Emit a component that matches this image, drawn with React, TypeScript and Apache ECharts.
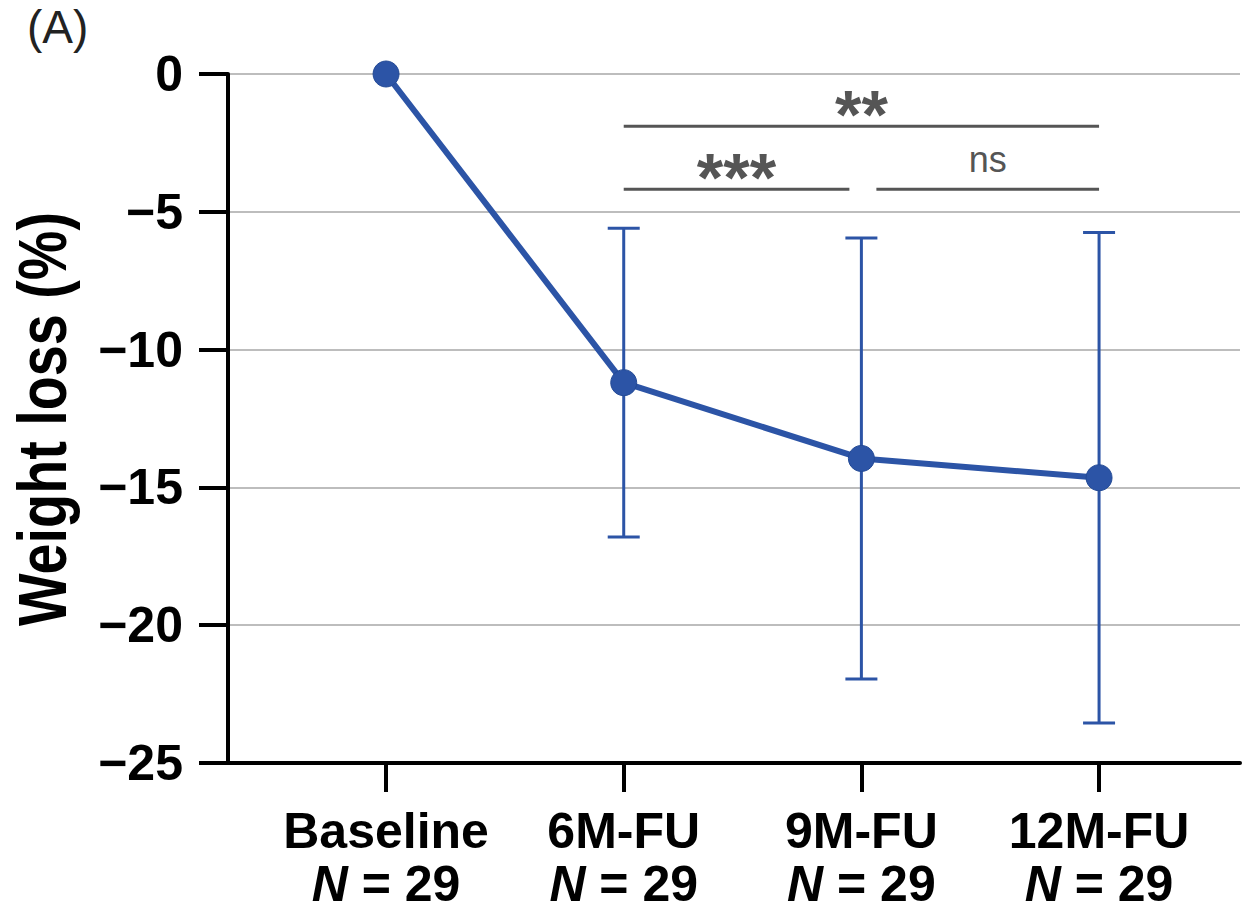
import React, { useEffect, useRef } from "react";
import * as echarts from "echarts";

// Time points and sample sizes
const categories = ["Baseline", "6M-FU", "9M-FU", "12M-FU"];
const sampleSizes = [29, 29, 29, 29];

// Mean weight change (%) and its standard deviation at each time point
const meanLoss = [0, -11.2, -13.95, -14.65];
const sdLoss = [0, 5.6, 8.0, 8.9];

// Y-axis ticks
const yTicks = [0, -5, -10, -15, -20, -25];

// Pairwise comparisons drawn above the curve
const bracketFrom = [1, 1, 2];
const bracketTo = [3, 2, 3];
const bracketLevel = [-1.9, -4.18, -4.18];
const bracketLabel = ["**", "***", "ns"];

const FONT = "'Liberation Sans', Arial, Helvetica, sans-serif";
const BLUE = "#2c54a6";
const SIG_GRAY = "#555555";

export default function App() {
  const ref = useRef<HTMLDivElement>(null);

  useEffect(() => {
    if (!ref.current) return;
    const chart = echarts.init(ref.current, null, { renderer: "svg" });

    const catIdx = categories.map((_, i) => i);
    const lineData = meanLoss.map((m, i) => [i, m]);
    const errData = meanLoss
      .map((m, i) => [i, m - sdLoss[i], m + sdLoss[i]])
      .filter((_, i) => sdLoss[i] > 0);
    const bracketData = bracketFrom.map((f, i) => [f, bracketTo[i], bracketLevel[i]]);

    const yMin = Math.min(...yTicks);
    const yMax = Math.max(...yTicks);

    const option: any = {
      animation: false,
      backgroundColor: "#ffffff",
      grid: { left: 228, top: 74, right: 2, bottom: 150, containLabel: false },
      xAxis: {
        type: "value",
        min: -0.665,
        max: 3.593,
        axisLine: { show: true, onZero: false, lineStyle: { color: "#000", width: 4 } },
        axisTick: {
          show: true,
          customValues: catIdx,
          length: 29,
          lineStyle: { color: "#000", width: 4 },
        },
        axisLabel: {
          show: true,
          customValues: catIdx,
          margin: 37,
          formatter: (v: number) => {
            const i = Math.round(v);
            return `{c|${categories[i]}}\n{n|N}{e| = ${sampleSizes[i]}}`;
          },
          rich: {
            c: { fontFamily: FONT, fontSize: 50, fontWeight: "bold", color: "#000", lineHeight: 62 },
            n: { fontFamily: FONT, fontSize: 50, fontWeight: "bold", fontStyle: "italic", color: "#000", lineHeight: 44 },
            e: { fontFamily: FONT, fontSize: 50, fontWeight: "bold", color: "#000", lineHeight: 44 },
          },
        },
        splitLine: { show: false },
      },
      yAxis: {
        type: "value",
        min: yMin,
        max: yMax,
        interval: 5,
        axisLine: { show: true, onZero: false, lineStyle: { color: "#000", width: 4 } },
        axisTick: { show: true, length: 29, lineStyle: { color: "#000", width: 4 } },
        axisLabel: {
          margin: 45,
          fontFamily: FONT,
          fontSize: 50,
          fontWeight: "bold",
          color: "#000",
          formatter: (v: number) => (v === 0 ? "0" : "\u2212" + Math.abs(v)),
        },
        splitLine: { show: true, lineStyle: { color: "#bdbdbd", width: 2 } },
      },
      graphic: [
        {
          type: "text",
          left: 27,
          top: 4,
          style: { text: "(A)", fontFamily: FONT, fontSize: 46, fill: "#222" },
        },
        {
          type: "text",
          x: 42,
          y: 419,
          rotation: Math.PI / 2,
          scaleX: 0.82,
          style: {
            text: "Weight loss (%)",
            fontFamily: FONT,
            fontSize: 68,
            fontWeight: "bold",
            fill: "#000",
            align: "center",
            verticalAlign: "middle",
          },
        },
      ],
      series: [
        {
          type: "custom",
          name: "sd",
          z: 1,
          data: errData,
          renderItem: (_params: any, api: any) => {
            const x = api.value(0);
            const lo = api.coord([x, api.value(1)]);
            const hi = api.coord([x, api.value(2)]);
            const half = 16;
            const st = { stroke: BLUE, lineWidth: 3 };
            return {
              type: "group",
              children: [
                { type: "line", shape: { x1: hi[0], y1: hi[1], x2: lo[0], y2: lo[1] }, style: st },
                { type: "line", shape: { x1: hi[0] - half, y1: hi[1], x2: hi[0] + half, y2: hi[1] }, style: st },
                { type: "line", shape: { x1: lo[0] - half, y1: lo[1], x2: lo[0] + half, y2: lo[1] }, style: st },
              ],
            };
          },
        },
        {
          type: "line",
          name: "mean",
          z: 3,
          data: lineData,
          symbol: "circle",
          symbolSize: 26,
          lineStyle: { color: BLUE, width: 6 },
          itemStyle: { color: BLUE, borderColor: "#234a96", borderWidth: 1 },
        },
        {
          type: "custom",
          name: "brackets",
          z: 2,
          data: bracketData,
          renderItem: (params: any, api: any) => {
            const i = params.dataIndex;
            const f = api.value(0);
            const t = api.value(1);
            const lv = api.value(2);
            const a = api.coord([f, lv]);
            const b = api.coord([t, lv]);
            // shorten ends shared with a neighbouring bracket on the same level
            const shared = (x: number, self: number) =>
              bracketLevel.some((l, k) => k !== self && l === bracketLevel[self] && (bracketFrom[k] === x || bracketTo[k] === x));
            const x1 = a[0] + (shared(f, i) ? 15 : 0);
            const x2 = b[0] - (shared(t, i) ? 12 : 0);
            const label = bracketLabel[i];
            const isStar = label.indexOf("*") >= 0;
            return {
              type: "group",
              children: [
                {
                  type: "line",
                  shape: { x1, y1: a[1], x2, y2: b[1] },
                  style: { stroke: SIG_GRAY, lineWidth: 3 },
                },
                {
                  type: "text",
                  x: (x1 + x2) / 2,
                  y: a[1] - (isStar ? 12 : 30),
                  style: {
                    text: label,
                    fontFamily: FONT,
                    fontSize: isStar ? 68 : 36,
                    fontWeight: isStar ? "bold" : "normal",
                    fill: SIG_GRAY,
                    align: "center",
                    verticalAlign: "middle",
                  },
                },
              ],
            };
          },
        },
      ],
    };

    chart.setOption(option);
    return () => chart.dispose();
  }, []);

  return (
    <div
      ref={ref}
      style={{ position: "fixed", left: 0, top: 0, width: 1242, height: 913, background: "#fff" }}
    />
  );
}
